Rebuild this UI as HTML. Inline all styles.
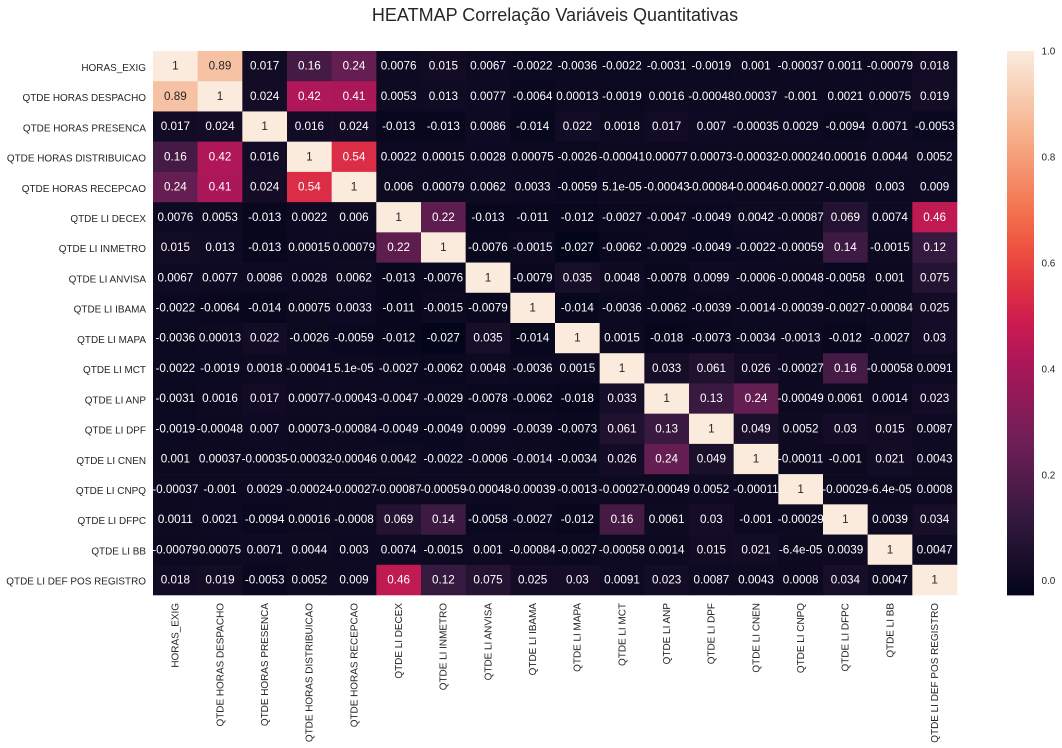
<!DOCTYPE html>
<html lang="pt">
<head>
<meta charset="utf-8">
<title>HEATMAP Correlação Variáveis Quantitativas</title>
<style>
html,body{margin:0;padding:0;background:#fff;width:1062px;height:748px;overflow:hidden}
svg{display:block}
text{font-family:"Liberation Sans",Arial,sans-serif}
</style>
</head>
<body>
<svg id="chart" xmlns="http://www.w3.org/2000/svg" width="1062" height="748" viewBox="0 0 1062 748">
  <text x="555" y="21" font-size="18" fill="#262626" text-anchor="middle">HEATMAP Correlação Variáveis Quantitativas</text>
</svg>
<script>
const categories = ["HORAS_EXIG","QTDE HORAS DESPACHO","QTDE HORAS PRESENCA","QTDE HORAS DISTRIBUICAO","QTDE HORAS RECEPCAO","QTDE LI DECEX","QTDE LI INMETRO","QTDE LI ANVISA","QTDE LI IBAMA","QTDE LI MAPA","QTDE LI MCT","QTDE LI ANP","QTDE LI DPF","QTDE LI CNEN","QTDE LI CNPQ","QTDE LI DFPC","QTDE LI BB","QTDE LI DEF POS REGISTRO"];
const rowHorasExig = [1,0.89,0.017,0.16,0.24,0.0076,0.015,0.0067,-0.0022,-0.0036,-0.0022,-0.0031,-0.0019,0.001,-0.00037,0.0011,-0.00079,0.018];
const rowDespacho = [0.89,1,0.024,0.42,0.41,0.0053,0.013,0.0077,-0.0064,0.00013,-0.0019,0.0016,-0.00048,0.00037,-0.001,0.0021,0.00075,0.019];
const rowPresenca = [0.017,0.024,1,0.016,0.024,-0.013,-0.013,0.0086,-0.014,0.022,0.0018,0.017,0.007,-0.00035,0.0029,-0.0094,0.0071,-0.0053];
const rowDistribuicao = [0.16,0.42,0.016,1,0.54,0.0022,0.00015,0.0028,0.00075,-0.0026,-0.00041,0.00077,0.00073,-0.00032,-0.00024,0.00016,0.0044,0.0052];
const rowRecepcao = [0.24,0.41,0.024,0.54,1,0.006,0.00079,0.0062,0.0033,-0.0059,5.1e-5,-0.00043,-0.00084,-0.00046,-0.00027,-0.0008,0.003,0.009];
const rowDecex = [0.0076,0.0053,-0.013,0.0022,0.006,1,0.22,-0.013,-0.011,-0.012,-0.0027,-0.0047,-0.0049,0.0042,-0.00087,0.069,0.0074,0.46];
const rowInmetro = [0.015,0.013,-0.013,0.00015,0.00079,0.22,1,-0.0076,-0.0015,-0.027,-0.0062,-0.0029,-0.0049,-0.0022,-0.00059,0.14,-0.0015,0.12];
const rowAnvisa = [0.0067,0.0077,0.0086,0.0028,0.0062,-0.013,-0.0076,1,-0.0079,0.035,0.0048,-0.0078,0.0099,-0.0006,-0.00048,-0.0058,0.001,0.075];
const rowIbama = [-0.0022,-0.0064,-0.014,0.00075,0.0033,-0.011,-0.0015,-0.0079,1,-0.014,-0.0036,-0.0062,-0.0039,-0.0014,-0.00039,-0.0027,-0.00084,0.025];
const rowMapa = [-0.0036,0.00013,0.022,-0.0026,-0.0059,-0.012,-0.027,0.035,-0.014,1,0.0015,-0.018,-0.0073,-0.0034,-0.0013,-0.012,-0.0027,0.03];
const rowMct = [-0.0022,-0.0019,0.0018,-0.00041,5.1e-5,-0.0027,-0.0062,0.0048,-0.0036,0.0015,1,0.033,0.061,0.026,-0.00027,0.16,-0.00058,0.0091];
const rowAnp = [-0.0031,0.0016,0.017,0.00077,-0.00043,-0.0047,-0.0029,-0.0078,-0.0062,-0.018,0.033,1,0.13,0.24,-0.00049,0.0061,0.0014,0.023];
const rowDpf = [-0.0019,-0.00048,0.007,0.00073,-0.00084,-0.0049,-0.0049,0.0099,-0.0039,-0.0073,0.061,0.13,1,0.049,0.0052,0.03,0.015,0.0087];
const rowCnen = [0.001,0.00037,-0.00035,-0.00032,-0.00046,0.0042,-0.0022,-0.0006,-0.0014,-0.0034,0.026,0.24,0.049,1,-0.00011,-0.001,0.021,0.0043];
const rowCnpq = [-0.00037,-0.001,0.0029,-0.00024,-0.00027,-0.00087,-0.00059,-0.00048,-0.00039,-0.0013,-0.00027,-0.00049,0.0052,-0.00011,1,-0.00029,-6.4e-5,0.0008];
const rowDfpc = [0.0011,0.0021,-0.0094,0.00016,-0.0008,0.069,0.14,-0.0058,-0.0027,-0.012,0.16,0.0061,0.03,-0.001,-0.00029,1,0.0039,0.034];
const rowBb = [-0.00079,0.00075,0.0071,0.0044,0.003,0.0074,-0.0015,0.001,-0.00084,-0.0027,-0.00058,0.0014,0.015,0.021,-6.4e-5,0.0039,1,0.0047];
const rowDefPos = [0.018,0.019,-0.0053,0.0052,0.009,0.46,0.12,0.075,0.025,0.03,0.0091,0.023,0.0087,0.0043,0.0008,0.034,0.0047,1];
const matrix = [rowHorasExig,rowDespacho,rowPresenca,rowDistribuicao,rowRecepcao,rowDecex,rowInmetro,rowAnvisa,rowIbama,rowMapa,rowMct,rowAnp,rowDpf,rowCnen,rowCnpq,rowDfpc,rowBb,rowDefPos];
const colorbarTicks = [0,0.2,0.4,0.6,0.8,1];

const svg = document.getElementById('chart');
const NS = 'http://www.w3.org/2000/svg';
const plotLeft = 153, plotRight = 957, plotTop = 51, plotBottom = 595;
const barLeft = 1007, barRight = 1034;
const vmin = Math.min(...matrix.flat());
const vmax = Math.max(...matrix.flat());
const xScale = i => plotLeft + (plotRight - plotLeft) * i / categories.length;
const yScale = i => plotTop + (plotBottom - plotTop) * i / categories.length;
const barScale = v => plotBottom - (plotBottom - plotTop) * (v - vmin) / (vmax - vmin);
const normalize = v => (v - vmin) / (vmax - vmin);

const rocketStops = [[0,3,5,26],[0.026,12,9,33],[0.07,26,15,43],[0.143,53,25,62],[0.286,112,31,87],[0.429,173,23,89],[0.5,203,27,80],[0.571,225,51,66],[0.643,238,84,64],[0.714,243,118,81],[0.857,246,180,143],[1,250,235,221]];
function rocket(t) {
  t = Math.max(0, Math.min(1, t));
  for (let k = 1; k < rocketStops.length; k++) {
    const a = rocketStops[k - 1], b = rocketStops[k];
    if (t <= b[0]) {
      const f = (t - a[0]) / (b[0] - a[0]);
      return [a[1] + (b[1] - a[1]) * f, a[2] + (b[2] - a[2]) * f, a[3] + (b[3] - a[3]) * f];
    }
  }
  return rocketStops[rocketStops.length - 1].slice(1);
}
const toCss = c => 'rgb(' + c.map(Math.round).join(',') + ')';
function luminance(c) {
  const l = c.map(x => { x /= 255; return x <= 0.03928 ? x / 12.92 : Math.pow((x + 0.055) / 1.055, 2.4); });
  return 0.2126 * l[0] + 0.7152 * l[1] + 0.0722 * l[2];
}
function formatG(v) {
  if (v === 0) return '0';
  const exp = Math.floor(Math.log10(Math.abs(Number(v.toPrecision(2)))));
  if (exp < -4) {
    const parts = v.toExponential(1).split('e');
    const m = parts[0].replace(/\.?0+$/, '');
    const e = Math.abs(Number(parts[1]));
    return m + 'e-' + (e < 10 ? '0' + e : e);
  }
  let s = v.toPrecision(2);
  if (s.indexOf('.') >= 0) s = s.replace(/0+$/, '').replace(/\.$/, '');
  return s;
}
function make(tag, attrs, text) {
  const el = document.createElementNS(NS, tag);
  for (const k in attrs) el.setAttribute(k, attrs[k]);
  if (text !== undefined) el.textContent = text;
  svg.appendChild(el);
  return el;
}

matrix.forEach((row, r) => {
  row.forEach((v, c) => {
    const col = rocket(normalize(v));
    const x0 = xScale(c), y0 = yScale(r);
    const w = xScale(c + 1) - x0, h = yScale(r + 1) - y0;
    const cell = make('rect', {x: x0, y: y0, width: w + 0.3, height: h + 0.3, fill: toCss(col)});
    
    
  });
});
matrix.forEach((row, r) => {
  row.forEach((v, c) => {
    const col = rocket(normalize(v));
    const label = make('text', {
      x: xScale(c + 0.5), y: yScale(r + 0.5) + 3.6,
      'font-size': 11.7, 'text-anchor': 'middle',
      fill: luminance(col) > 0.408 ? '#262626' : '#ffffff'
    }, formatG(v));
    
    
  });
});
categories.forEach((name, i) => {
  const yl = make('text', {x: 146, y: yScale(i + 0.5) + 4.8, 'font-size': 9.95, 'text-anchor': 'end', fill: '#262626'}, name);
  
  
  const px = xScale(i + 0.5) + 3.4;
  const xl = make('text', {x: px, y: 603, 'font-size': 9.95, 'text-anchor': 'end', fill: '#262626', transform: 'rotate(-90 ' + px + ' 603)'}, name);
  
  
});
const strips = 256;
for (let s = 0; s < strips; s++) {
  const y0 = plotBottom - (plotBottom - plotTop) * (s + 1) / strips;
  const strip = make('rect', {x: barLeft, y: y0, width: barRight - barLeft, height: (plotBottom - plotTop) / strips + 0.4, fill: toCss(rocket((s + 0.5) / strips))});
  
  
}
colorbarTicks.forEach(t => {
  const tick = make('text', {x: 1041.5, y: barScale(t) + 3.5, 'font-size': 9.95, fill: '#262626'}, t.toFixed(1));
  
  
});
</script>
</body>
</html>
